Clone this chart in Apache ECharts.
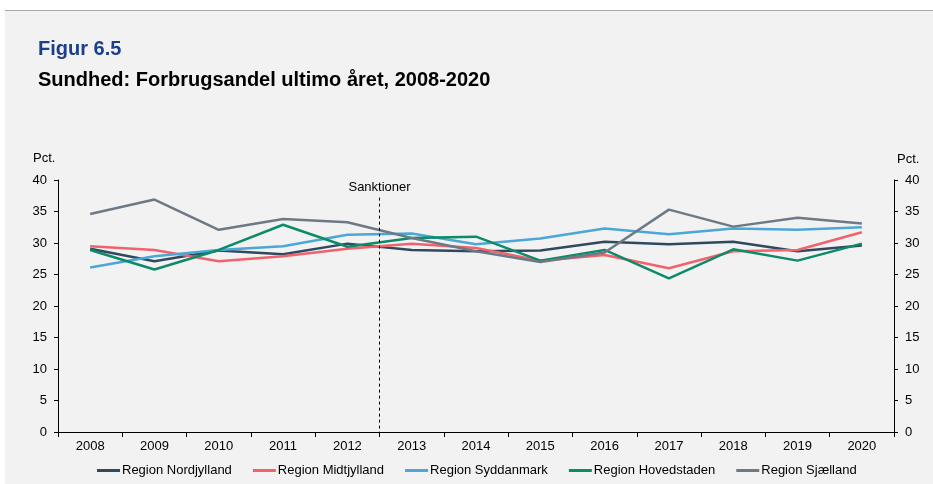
<!DOCTYPE html>
<html>
<head>
<meta charset="utf-8">
<script src="https://cdn.jsdelivr.net/npm/echarts@6/dist/echarts.min.js"></script>
<style>
html,body{margin:0;padding:0;background:#fff;}
#bg{position:absolute;left:5px;top:10px;right:0;bottom:0;background:#f2f2f2;border-top:1px solid #a6a6a6;}
#chart{position:absolute;left:0;top:0;width:933px;height:484px;}
</style>
</head>
<body>
<div id="bg"></div>
<div id="chart"></div>
<script>
const years = ['2008','2009','2010','2011','2012','2013','2014','2015','2016','2017','2018','2019','2020'];
const nordjylland = [29.1, 27.1, 28.8, 28.2, 29.9, 28.9, 28.7, 28.8, 30.2, 29.8, 30.2, 28.7, 29.6];
const midtjylland = [29.5, 28.9, 27.1, 27.9, 29.1, 29.9, 29.2, 27.2, 28.1, 26.0, 28.7, 28.9, 31.7];
const syddanmark  = [26.1, 27.9, 28.9, 29.5, 31.3, 31.5, 29.8, 30.7, 32.3, 31.4, 32.3, 32.1, 32.5];
const hovedstaden = [28.9, 25.8, 28.9, 32.9, 29.4, 30.8, 31.0, 27.2, 28.9, 24.4, 29.0, 27.2, 29.9];
const sjaelland   = [34.6, 36.9, 32.1, 33.8, 33.3, 30.8, 28.7, 27.0, 28.5, 35.3, 32.6, 34.0, 33.1];
const seriesNames = ['Region Nordjylland','Region Midtjylland','Region Syddanmark','Region Hovedstaden','Region Sjælland'];
const seriesColors = ['#2f4a5f','#f0626c','#4ba7d5','#0d8a68','#6d7a86'];
const sanktionerPos = 4.5;   // between 2012 and 2013
const sanktionerTop = 37.2;
const yTicks = {min:0, max:40, interval:5};

const font = 'Arial, "Liberation Sans", sans-serif';
const allData = [nordjylland, midtjylland, syddanmark, hovedstaden, sjaelland];

const chart = echarts.init(document.getElementById('chart'), null, {renderer:'canvas'});
const yAxisBase = {
  type:'value', min:yTicks.min, max:yTicks.max, interval:yTicks.interval,
  axisLine:{show:true, onZero:false, lineStyle:{color:'#000', width:1}},
  axisTick:{show:true, length:4, lineStyle:{color:'#000'}},
  axisLabel:{color:'#000', fontSize:13, fontFamily:font, margin:11},
  splitLine:{show:false}
};
const option = {
  animation:false,
  backgroundColor:'transparent',
  textStyle:{fontFamily:font},
  title:[
    {text:'Figur 6.5', left:33, top:34, textStyle:{color:'#1b3f8b', fontSize:20, fontWeight:'bold', fontFamily:font}},
    {text:'Sundhed: Forbrugsandel ultimo året, 2008-2020', left:33, top:65, textStyle:{color:'#000', fontSize:20, fontWeight:'bold', fontFamily:font}},
    {text:'Pct.', left:33, top:152, padding:0, textStyle:{color:'#000', fontSize:13, fontWeight:'normal', fontFamily:font}}
  ],
  legend:{
    left:92, top:459, itemWidth:23, itemHeight:3, itemGap:21, icon:'rect',
    textStyle:{color:'#000', fontSize:13, fontFamily:font, padding:[0,0,0,-3]},
    data:seriesNames
  },
  grid:{left:58, right:39, top:180, bottom:52},
  xAxis:[
    {type:'category', data:years, boundaryGap:true,
     axisLine:{onZero:false, lineStyle:{color:'#000'}},
     axisTick:{show:true, length:5, lineStyle:{color:'#000'}},
     axisLabel:{color:'#000', fontSize:13, fontFamily:font, margin:8}},
    {type:'value', min:-0.5, max:years.length-0.5, show:false}
  ],
  yAxis:[
    Object.assign({}, yAxisBase, {position:'left'}),
    Object.assign({}, yAxisBase, {position:'right', name:'Pct.', nameLocation:'end', nameGap:14,
      nameTextStyle:{color:'#000', fontSize:13, fontFamily:font, align:'left', padding:[0,0,0,3]}})
  ],
  series: seriesNames.map((n,i)=>({
    name:n, type:'line', data:allData[i], xAxisIndex:0, yAxisIndex:0,
    symbol:'none', lineStyle:{width:2.5, color:seriesColors[i]}, itemStyle:{color:seriesColors[i]}
  })).concat([{
    name:'_sank', type:'line', xAxisIndex:1, yAxisIndex:0, data:[], symbol:'none',
    markLine:{
      silent:true, symbol:['none','none'],
      lineStyle:{type:[3,3], color:'#000', width:1},
      label:{show:true, position:'start', formatter:'Sanktioner', color:'#000', fontSize:13, fontFamily:font, distance:4},
      data:[[{coord:[sanktionerPos, sanktionerTop]},{coord:[sanktionerPos, 0]}]]
    }
  }])
};
chart.setOption(option);
</script>
</body>
</html>
